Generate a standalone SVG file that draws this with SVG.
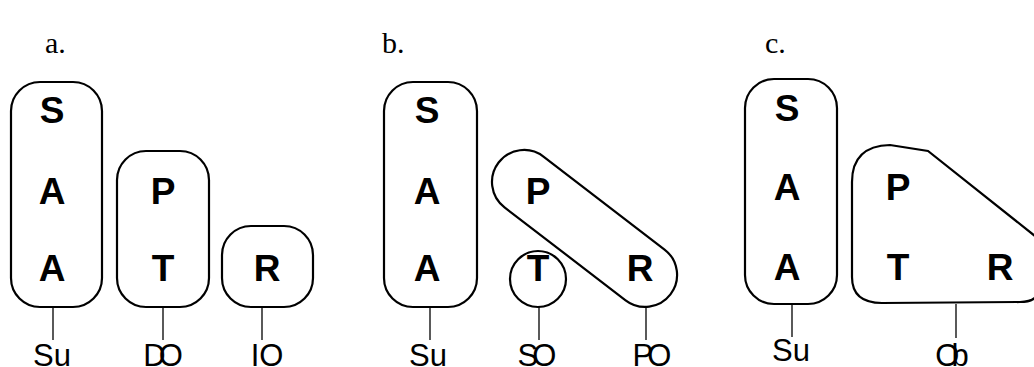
<svg xmlns="http://www.w3.org/2000/svg" width="1034" height="367" viewBox="0 0 1034 367">
<style>
.box{fill:none;stroke:#000;stroke-width:2.2}
.ln{stroke:#000;stroke-width:1.3}
.big{font-family:"Liberation Sans",Arial,sans-serif;font-weight:bold;font-size:37px;text-anchor:middle;fill:#000}
.lab{font-family:"Liberation Sans",Arial,sans-serif;font-size:31px;text-anchor:middle;fill:#000}
.hd{font-family:"Liberation Serif","Times New Roman",serif;font-size:30px;fill:#000}
</style>
<rect width="1034" height="367" fill="#fff"/>
<g id="headings">
<text class="hd" x="45" y="53">a.</text>
<text class="hd" x="382" y="53">b.</text>
<text class="hd" x="765" y="53">c.</text>
</g>

<g id="a-subject">
<rect class="box" x="11" y="82" width="91" height="225" rx="29"/>
<text class="big" x="52" y="123">S</text>
<text class="big" x="52" y="204">A</text>
<text class="big" x="52" y="281">A</text>
</g>
<g id="a-do">
<rect class="box" x="117" y="151" width="92" height="156" rx="29"/>
<text class="big" x="163" y="204">P</text>
<text class="big" x="163" y="281">T</text>
</g>
<g id="a-io">
<rect class="box" x="222" y="226" width="91" height="81" rx="29"/>
<text class="big" x="267" y="281">R</text>
</g>

<g id="b-subject">
<rect class="box" x="384" y="82" width="93" height="225" rx="29"/>
<text class="big" x="427" y="123">S</text>
<text class="big" x="427" y="204">A</text>
<text class="big" x="427" y="281">A</text>
</g>
<g id="b-po">
<rect class="box" transform="translate(524,182) rotate(37.5)" x="-32" y="-32" width="216.6" height="64" rx="32"/>
<text class="big" x="538" y="204">P</text>
<text class="big" x="640" y="281">R</text>
</g>
<g id="b-so">
<circle class="box" cx="538" cy="279" r="28"/>
<text class="big" x="538" y="281">T</text>
</g>

<g id="c-subject">
<rect class="box" x="745" y="79" width="92" height="225" rx="29"/>
<text class="big" x="787" y="121">S</text>
<text class="big" x="787" y="200">A</text>
<text class="big" x="787" y="280">A</text>
</g>
<g id="c-ob">
<path class="box" d="M852,277 L852,182 Q852,146 890,145 L928,151 L1040,240 L1040,285 Q1040,302 1020,302 L882,303 Q852,303 852,277 Z"/>
<text class="big" x="898" y="200">P</text>
<text class="big" x="898" y="280">T</text>
<text class="big" x="1000" y="280">R</text>
</g>

<g id="connectors">
<line class="ln" x1="53" y1="307" x2="53" y2="340"/>
<line class="ln" x1="163" y1="307" x2="163" y2="340"/>
<line class="ln" x1="262" y1="307" x2="262" y2="340"/>
<line class="ln" x1="430" y1="307" x2="430" y2="340"/>
<line class="ln" x1="539" y1="307" x2="539" y2="340"/>
<line class="ln" x1="646" y1="307" x2="646" y2="340"/>
<line class="ln" x1="792" y1="304" x2="792" y2="337"/>
<line class="ln" x1="956" y1="304" x2="956" y2="338"/>
</g>

<g id="labels">
<text class="lab" x="52" y="366">Su</text>
<text class="lab" x="163" y="366">D<tspan dx="-7">O</tspan></text>
<text class="lab" x="267" y="366">IO</text>
<text class="lab" x="428" y="366">Su</text>
<text class="lab" x="537" y="366">S<tspan dx="-6">O</tspan></text>
<text class="lab" x="652" y="366">P<tspan dx="-6">O</tspan></text>
<text class="lab" x="791" y="361">Su</text>
<text class="lab" x="952" y="366">O<tspan dx="-8">b</tspan></text>
</g>
</svg>
